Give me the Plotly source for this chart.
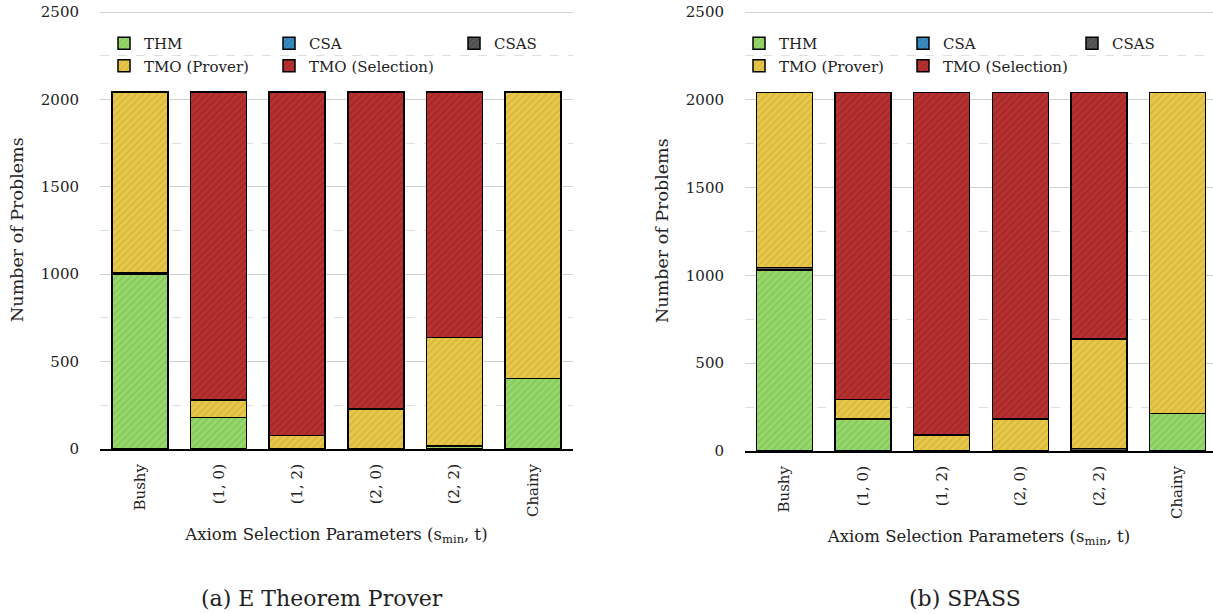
import plotly.graph_objects as go

# the page's default 8px body margin is removed after plotting (post_script)
OFF = 0
FW, FH = 1213 - OFF, 614 - OFF

categories = ["Bushy", "(1, 0)", "(1, 2)", "(2, 0)", "(2, 2)", "Chainy"]

# E Theorem Prover
e_thm = [998, 180, 2, 0, 18, 403]
e_csa = [0, 0, 0, 0, 0, 0]
e_csas = [10, 0, 0, 0, 0, 0]
e_tmo_prover = [1035, 100, 76, 229, 619, 1640]
e_tmo_selection = [0, 1763, 1965, 1814, 1406, 0]

# SPASS
s_thm = [1032, 182, 3, 2, 4, 213]
s_csa = [0, 0, 0, 0, 0, 0]
s_csas = [12, 0, 0, 0, 10, 0]
s_tmo_prover = [999, 112, 88, 180, 624, 1830]
s_tmo_selection = [0, 1749, 1952, 1861, 1405, 0]

series_names = ["THM", "CSA", "CSAS", "TMO (Prover)", "TMO (Selection)"]
fill = {"THM": "#96d86c", "CSA": "#3a8dc2", "CSAS": "#5a5a5a",
        "TMO (Prover)": "#e8c84a", "TMO (Selection)": "#b73131"}
hatch = {"THM": "#86c85c", "CSA": "#2f7db0", "CSAS": "#4a4a4a",
         "TMO (Prover)": "#d8b83c", "TMO (Selection)": "#a42828"}

FONT = "DejaVu Serif"
TXT = "#222222"

fig = go.Figure()

def nz(vals):
    return [v if v != 0 else None for v in vals]

panels = [
    ("x", "y", [e_thm, e_csa, e_csas, e_tmo_prover, e_tmo_selection],
     {"THM": "legend", "TMO (Prover)": "legend", "CSA": "legend2",
      "TMO (Selection)": "legend2", "CSAS": "legend3"}),
    ("x2", "y2", [s_thm, s_csa, s_csas, s_tmo_prover, s_tmo_selection],
     {"THM": "legend4", "TMO (Prover)": "legend4", "CSA": "legend5",
      "TMO (Selection)": "legend5", "CSAS": "legend6"}),
]

for xa, ya, data, legmap in panels:
    for name, vals in zip(series_names, data):
        fig.add_trace(go.Bar(
            x=categories, y=nz(vals), name=name,
            xaxis=xa, yaxis=ya, legend=legmap[name],
            marker=dict(color=fill[name],
                        line=dict(color="black", width=1.5),
                        pattern=dict(shape="/", fgcolor=hatch[name],
                                     bgcolor=fill[name], size=5,
                                     solidity=0.35, fillmode="replace")),
        ))

def px_x(p):
    return (p - OFF) / FW

def px_y(p):
    return 1 - (p - OFF) / FH

YMAX = 2510  # a little headroom so the 2500 gridline is drawn

xcommon = dict(
    type="category", tickangle=-90, showline=True, linecolor="black",
    linewidth=2, ticks="outside", ticklen=7, tickcolor="rgba(0,0,0,0)",
    showgrid=False, zeroline=False, automargin=False,
    tickfont=dict(family=FONT, size=15, color=TXT),
    title=dict(text="Axiom Selection Parameters (s<sub>min</sub>, t)",
               font=dict(family=FONT, size=16.5, color=TXT), standoff=12),
)
ycommon = dict(
    range=[0, YMAX], dtick=500, showline=False, zeroline=False,
    gridcolor="#cfcfcf", gridwidth=1, automargin=False,
    ticklabeloverflow="allow",
    minor=dict(dtick=250, showgrid=True, gridcolor="#dedede",
               griddash="dash", gridwidth=1),
    ticks="outside", ticklen=17, tickcolor="rgba(0,0,0,0)",
    tickfont=dict(family=FONT, size=15, color=TXT),
    title=dict(text="Number of Problems",
               font=dict(family=FONT, size=17.5, color=TXT), standoff=12),
)

# pixel scale: left 437px per 2500, right 439px per 2500
top_l = 449 - 437 * YMAX / 2500
top_r = 451 - 439 * YMAX / 2500

fig.update_layout(
    width=FW, height=FH,
    margin=dict(l=0, r=0, t=0, b=0, autoexpand=False),
    paper_bgcolor="white", plot_bgcolor="white",
    barmode="stack", bargap=0.287,
    font=dict(family=FONT, color=TXT),
    xaxis=dict(domain=[px_x(100), px_x(573)], anchor="y",
               range=[-0.51, 5.51], **xcommon),
    yaxis=dict(domain=[px_y(449), px_y(top_l)], anchor="x", **ycommon),
    xaxis2=dict(domain=[px_x(745), 1.0], anchor="y2",
                range=[-0.5, 5.45], **xcommon),
    yaxis2=dict(domain=[px_y(451), px_y(top_r)], anchor="x2", **ycommon),
)

leg = dict(orientation="v", traceorder="normal", bgcolor="rgba(0,0,0,0)",
           font=dict(family=FONT, size=15, color=TXT),
           xanchor="left", yanchor="top", y=px_y(27), tracegroupgap=0,
           itemclick=False, itemdoubleclick=False)
fig.update_layout(
    legend=dict(leg, x=px_x(104)),
    legend2=dict(leg, x=px_x(269)),
    legend3=dict(leg, x=px_x(454)),
    legend4=dict(leg, x=px_x(739)),
    legend5=dict(leg, x=px_x(903)),
    legend6=dict(leg, x=px_x(1072)),
)

for txt, cx in [("(a) E Theorem Prover", 322), ("(b) SPASS", 965)]:
    fig.add_annotation(text=txt, x=px_x(cx), y=px_y(598),
                       xref="paper", yref="paper", showarrow=False,
                       xanchor="center", yanchor="middle",
                       font=dict(family=FONT, size=22, color=TXT))

fig.write_html("out.html",
               config={"displayModeBar": False},
               post_script="document.body.style.margin='0px';"
                           "document.body.style.overflow='hidden';")
